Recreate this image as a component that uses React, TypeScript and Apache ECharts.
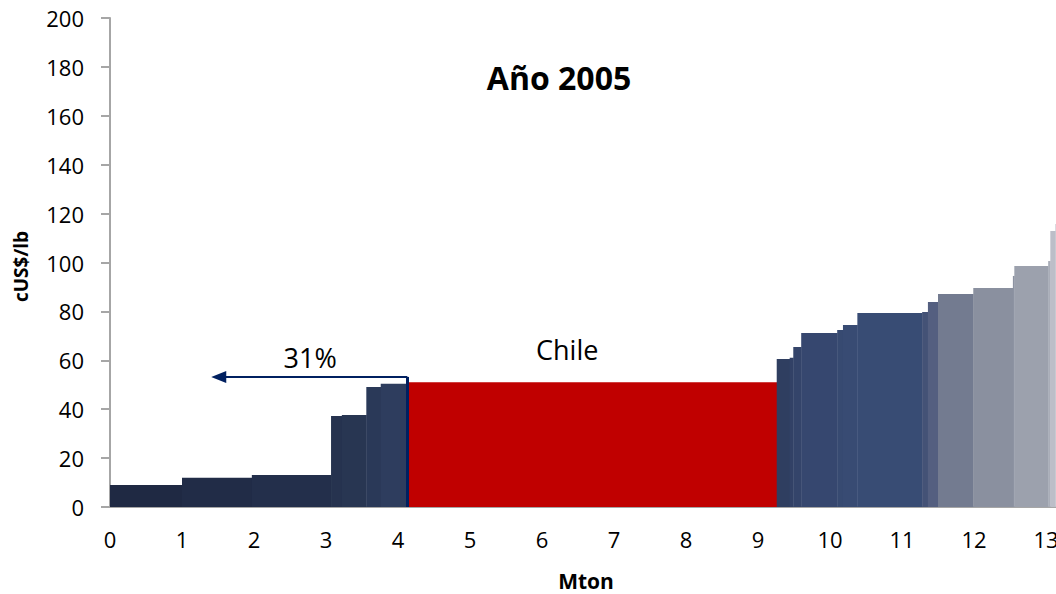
import React, { useEffect, useRef } from "react";
import * as echarts from "echarts";

// Cost curve 2005: production blocks (Mton) and cash cost (cUS$/lb)
const blockWidths = [1.0, 0.97, 1.1, 0.15, 0.34, 0.2, 0.37, 5.13, 0.18, 0.05, 0.11, 0.5, 0.08, 0.2, 0.9, 0.08, 0.14, 0.49, 0.55, 0.02, 0.47, 0.03, 0.07, 0.07];
const blockCosts = [9, 12, 13.1, 37.2, 37.6, 49.1, 50.4, 51, 60.5, 61, 65.4, 71.2, 72.4, 74.4, 79.3, 79.8, 83.8, 87.1, 89.6, 94.5, 98.6, 100.6, 112.9, 115.7];
const blockNames = ["", "", "", "", "", "", "", "Chile", "", "", "", "", "", "", "", "", "", "", "", "", "", "", "", ""];
const blockColors = [
  "#1f2943", "#212c47", "#232f4b", "#26334f", "#283652", "#2a3958", "#2e3d5e",
  "#c00000",
  "#2f3e60", "#324166", "#34446a", "#36476f", "#374a71", "#384b73", "#384c74",
  "#445276", "#545f80", "#737b90", "#8a909f", "#8d93a2", "#9ca1ad", "#a9adb8", "#bcbec8", "#c5c7cf",
];
const xTicks = [0, 1, 2, 3, 4, 5, 6, 7, 8, 9, 10, 11, 12, 13, 14];
const xLabelsShown = 13; // last tick label visible in the crop
const yTicks = [0, 20, 40, 60, 80, 100, 120, 140, 160, 180, 200];
const shareLabel = "31%";
const shareLimit = 4.13; // cumulative Mton left of Chile
const arrowLevel = 53.2;
const arrowEnd = 1.51;
const shareLabelPos = [2.78, 61];
const chileLabelPos = [6.35, 64.6];

const FONT = "'Open Sans', 'Noto Sans', sans-serif";

export default function App() {
  const ref = useRef<HTMLDivElement>(null);
  useEffect(() => {
    document.body.style.margin = "0";
    const chart = echarts.init(ref.current!, undefined, { renderer: "svg" });
    let acc = 0;
    const blocks = blockWidths.map((w, i) => {
      const start = acc;
      acc += w;
      return [start, acc, blockCosts[i], i];
    });
    chart.setOption({
      animation: false,
      backgroundColor: "#ffffff",
      textStyle: { fontFamily: FONT },
      grid: { left: 110, right: -62, top: 18, bottom: 87, containLabel: false, outerBoundsMode: "none" },
      xAxis: {
        type: "value",
        min: xTicks[0],
        max: xTicks[xTicks.length - 1],
        interval: 1,
        axisLine: { show: true, lineStyle: { color: "#a6a6a6", width: 2 } },
        axisTick: { show: false },
        splitLine: { show: false },
        axisLabel: {
          fontSize: 22,
          color: "#000",
          margin: 21,
          fontFamily: FONT,
          formatter: (v: number) => (v <= xLabelsShown ? String(v) : ""),
        },
      },
      yAxis: {
        type: "value",
        min: yTicks[0],
        max: yTicks[yTicks.length - 1],
        interval: 20,
        name: "cUS$/lb",
        nameLocation: "middle",
        nameGap: 80,
        nameRotate: 90,
        nameTextStyle: { fontSize: 19, fontWeight: "bold", color: "#000", fontFamily: FONT, padding: [0, 8, 0, 0] },
        axisLine: { show: true, lineStyle: { color: "#a6a6a6", width: 2 } },
        axisTick: { show: true, inside: false, length: 9, lineStyle: { color: "#a6a6a6", width: 2 } },
        splitLine: { show: false },
        axisLabel: { fontSize: 22, color: "#000", margin: 26, fontFamily: FONT },
      },
      graphic: [
        {
          type: "text",
          x: 559,
          y: 77,
          style: {
            text: "Año 2005",
            font: `bold 32px ${FONT}`,
            fill: "#000",
            textAlign: "center",
            textVerticalAlign: "middle",
          },
        },
        {
          type: "text",
          x: 586,
          y: 581,
          style: {
            text: "Mton",
            font: `bold 21px ${FONT}`,
            fill: "#000",
            textAlign: "center",
            textVerticalAlign: "middle",
          },
        },
      ],
      series: [
        {
          type: "custom",
          data: blocks,
          renderItem: (params: any, api: any) => {
            const s = api.value(0);
            const e = api.value(1);
            const c = api.value(2);
            const idx = api.value(3);
            const p0 = api.coord([s, c]);
            const p1 = api.coord([e, 0]);
            return {
              type: "rect",
              shape: { x: p0[0], y: p0[1], width: p1[0] - p0[0] + 0.4, height: p1[1] - p0[1] },
              style: { fill: blockColors[idx] },
            };
          },
          encode: { x: [0, 1], y: 2 },
          z: 2,
        },
        {
          type: "line",
          data: [],
          z: 5,
          markLine: {
            silent: true,
            animation: false,
            label: { show: false },
            data: [
              [
                { coord: [shareLimit, 0], symbol: "none", lineStyle: { color: "#002060", width: 3, type: "solid" } },
                { coord: [shareLimit, arrowLevel], symbol: "none" },
              ],
              [
                { coord: [shareLimit, arrowLevel], symbol: "none", lineStyle: { color: "#002060", width: 2, type: "solid" } },
                { coord: [arrowEnd, arrowLevel], symbol: "triangle", symbolSize: [12, 15] },
              ],
            ],
          },
        },
        {
          type: "scatter",
          symbolSize: 0,
          z: 6,
          itemStyle: { opacity: 1 },
          data: [
            { value: shareLabelPos, name: shareLabel },
            { value: chileLabelPos, name: blockNames[7] },
          ],
          label: {
            show: true,
            position: "inside",
            formatter: (p: any) => p.name,
            fontSize: 27,
            color: "#000000",
            opacity: 1,
            fontFamily: FONT,
          },
        },
      ],
    });
    return () => chart.dispose();
  }, []);
  return <div ref={ref} style={{ width: 1056, height: 594 }} />;
}
